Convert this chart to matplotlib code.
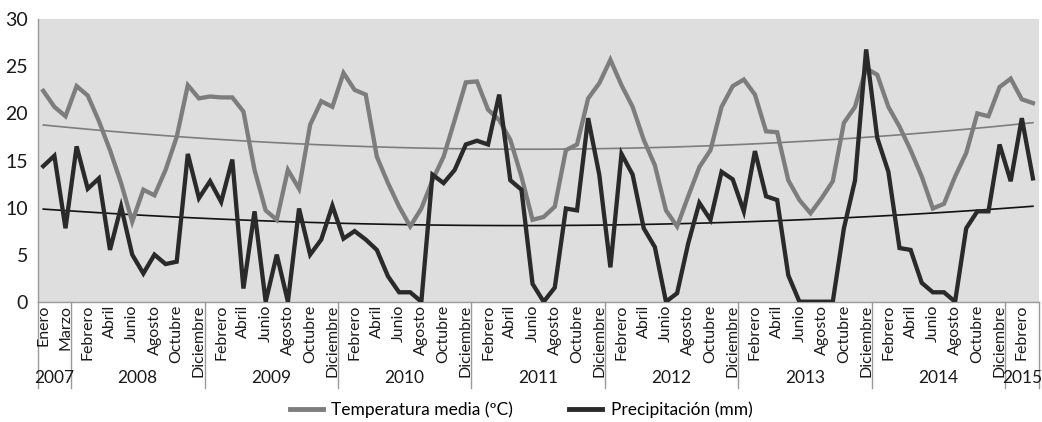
import numpy as np
import matplotlib
matplotlib.use("Agg")
import matplotlib.pyplot as plt
from matplotlib.lines import Line2D
import matplotlib.transforms as mtransforms

plt.rcParams['font.family'] = ['Lato', 'DejaVu Sans']

month_names = ["Enero", "Febrero", "Marzo", "Abril", "Mayo", "Junio", "Julio",
               "Agosto", "Septiembre", "Octubre", "Noviembre", "Diciembre"]
year_labels = [2007, 2008, 2009, 2010, 2011, 2012, 2013, 2014, 2015]
months_per_year = [3, 12, 12, 12, 12, 12, 12, 12, 3]

temperatura = [22.4, 20.7, 19.7,
               22.9, 21.9, 19.2, 16.1, 12.6, 8.5, 11.9, 11.3, 14.0, 17.5, 23.0, 21.6,
               21.8, 21.7, 21.7, 20.2, 14.0, 9.7, 8.7, 14.0, 12.0, 18.8, 21.3, 20.7,
               24.3, 22.5, 22.0, 15.4, 12.6, 10.1, 8.0, 9.9, 12.9, 15.4, 19.3, 23.3,
               23.4, 20.4, 19.3, 17.2, 13.3, 8.7, 9.0, 10.1, 16.1, 16.7, 21.6, 23.2,
               25.7, 23.0, 20.7, 17.2, 14.5, 9.7, 8.0, 11.2, 14.3, 16.1, 20.7, 22.9,
               23.6, 22.0, 18.1, 18.0, 12.9, 10.8, 9.4, 11.0, 12.8, 19.0, 20.7, 24.8,
               24.1, 20.7, 18.6, 16.1, 13.3, 9.9, 10.4, 13.3, 15.8, 20.0, 19.7, 22.8,
               23.7, 21.5, 21.1]
precipitacion = [14.4, 15.5, 7.8,
                 16.5, 12.0, 13.1, 5.5, 10.1, 5.0, 3.0, 5.0, 4.0, 4.25, 15.7, 11.0,
                 12.8, 10.6, 15.1, 1.4, 9.6, 0.0, 5.0, 0.0, 9.9, 5.0, 6.6, 10.2,
                 6.7, 7.5, 6.6, 5.5, 2.7, 1.0, 1.0, 0.0, 13.5, 12.6, 14.0, 16.7,
                 17.1, 16.7, 22.0, 12.9, 11.9, 1.9, 0.0, 1.5, 9.9, 9.7, 19.5, 13.5,
                 3.65, 15.7, 13.5, 7.8, 5.8, 0.0, 0.9, 6.2, 10.5, 8.7, 13.8, 13.0,
                 9.6, 16.0, 11.2, 10.8, 2.8, 0.0, 0.0, 0.0, 0.0, 7.8, 12.9, 26.8,
                 17.4, 13.8, 5.7, 5.5, 2.0, 1.0, 1.0, 0.0, 7.8, 9.6, 9.6, 16.7,
                 12.8, 19.5, 13.1]

# category labels (month of each point)
cat_months = []
for y, n in zip(year_labels, months_per_year):
    cat_months += month_names[:n]

W, H = 1042, 422
fig = plt.figure(figsize=(W / 100, H / 100), dpi=100)
ax_left, ax_right, ax_top, ax_bottom = 37.7, 1038.5, 19.3, 301.7
ax = fig.add_axes([ax_left / W, 1 - ax_bottom / H, (ax_right - ax_left) / W, (ax_bottom - ax_top) / H])
ax.set_facecolor('#dedede')

x = np.arange(len(temperatura))
t = np.array(temperatura)
p = np.array(precipitacion)

c_temp = '#7d7d7d'
c_prec = '#2a2a2a'

# polynomial (order 2) trend lines
tt = np.polyval(np.polyfit(x, t, 2), x)
pt = np.polyval(np.polyfit(x, p, 2), x)
ax.plot(x, tt, color=c_temp, lw=1.2, zorder=2)
ax.plot(x, pt, color='#111111', lw=1.2, zorder=2)

ax.plot(x, t, color=c_temp, lw=3.1, zorder=3, solid_joinstyle='miter')
ax.plot(x, p, color=c_prec, lw=3.1, zorder=4, solid_joinstyle='miter')

ax.set_xlim(-0.5, len(x) - 0.5)
ax.set_ylim(0, 30)
ax.set_yticks([0, 5, 10, 15, 20, 25, 30])
ax.tick_params(axis='y', length=0, pad=7, labelsize=14, labelcolor='#1a1a1a')
ax.set_xticks([])
for s in ['top', 'right']:
    ax.spines[s].set_visible(False)
ax.spines['left'].set_color('#9a9a9a')
ax.spines['bottom'].set_color('#9a9a9a')
ax.spines['left'].set_linewidth(1.0)
ax.spines['bottom'].set_linewidth(1.0)

# multi-level category axis
px = ax_bottom - ax_top
trans = mtransforms.blended_transform_factory(ax.transData, ax.transAxes)
for i, m in enumerate(cat_months):
    if i % 2 == 0:
        ax.text(i, -3 / px, m, rotation=90, ha='center', va='top', fontsize=11.5,
                color='#1a1a1a', transform=trans)

bounds = [-0.5]
for n in months_per_year:
    bounds.append(bounds[-1] + n)
for b in bounds:
    ax.plot([b, b], [0, -86 / px], color='#9a9a9a', lw=1.0, transform=trans, clip_on=False)
for k, yl in enumerate(year_labels):
    cx = (bounds[k] + bounds[k + 1]) / 2
    ax.text(cx, -76 / px, str(yl), ha='center', va='center', fontsize=12.5,
            color='#1a1a1a', transform=trans)

handles = [Line2D([], [], color=c_temp, lw=3.5), Line2D([], [], color=c_prec, lw=3.5)]
fig.legend(handles, ['Temperatura media (ºC)', 'Precipitación (mm)'], loc='center',
           bbox_to_anchor=(0.5, 1 - 410 / H), ncol=2, frameon=False, fontsize=12.5,
           handlelength=1.9, columnspacing=3.2, handletextpad=0.5)

fig.savefig('out.png', dpi=100)
